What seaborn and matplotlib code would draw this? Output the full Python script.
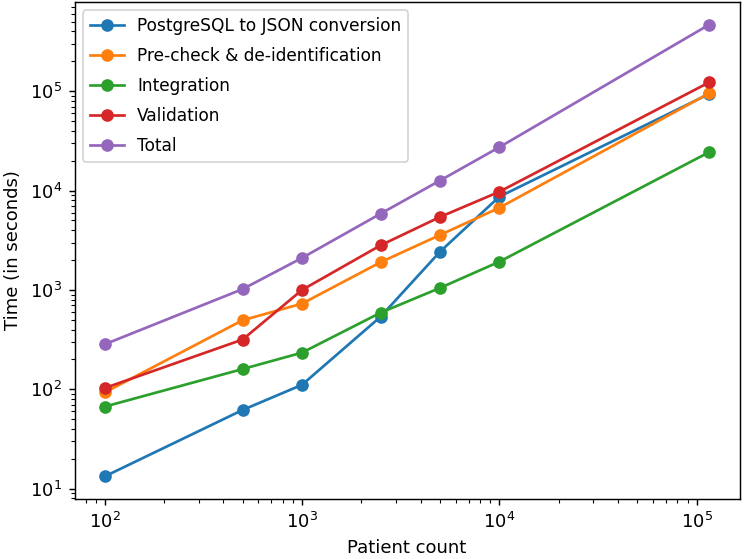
import numpy as np
import pandas as pd
import matplotlib
matplotlib.use("Agg")
import matplotlib.pyplot as plt
import seaborn as sns

patients = [100, 500, 1000, 2500, 5000, 10000, 116000]
series_names = ["PostgreSQL to JSON conversion", "Pre-check & de-identification",
                "Integration", "Validation", "Total"]
postgres_json = [13.3, 62, 111, 537, 2420, 8670, 94000]
precheck = [93, 496, 728, 1900, 3570, 6710, 95500]
integration = [67, 160, 234, 590, 1047, 1923, 24400]
validation = [103, 317, 1000, 2810, 5420, 9730, 123000]
total = [284, 1020, 2100, 5850, 12600, 27300, 468000]

values = [postgres_json, precheck, integration, validation, total]
rows = []
for name, vals in zip(series_names, values):
    for x, y in zip(patients, vals):
        rows.append({"Patient count": x, "Time": y, "Step": name})
df = pd.DataFrame(rows)

dpi = 130
fig = plt.figure(figsize=(744 / dpi, 559 / dpi), dpi=dpi)
ax = fig.add_axes([74.5 / 744, 1 - 499 / 559, (739.5 - 74.5) / 744, (499 - 2) / 559])

sns.lineplot(data=df, x="Patient count", y="Time", hue="Step", hue_order=series_names,
             palette=sns.color_palette("tab10", 5), marker="o", markersize=7,
             markeredgewidth=0, linewidth=1.5, ax=ax, sort=False)

ax.set_xscale("log")
ax.set_yscale("log")
ax.set_xlabel("Patient count")
ax.set_ylabel("Time (in seconds)")
sns.move_legend(ax, "upper left", title=None, fontsize=9.4, labelspacing=0.7)

fig.savefig("out.png", dpi=dpi)
